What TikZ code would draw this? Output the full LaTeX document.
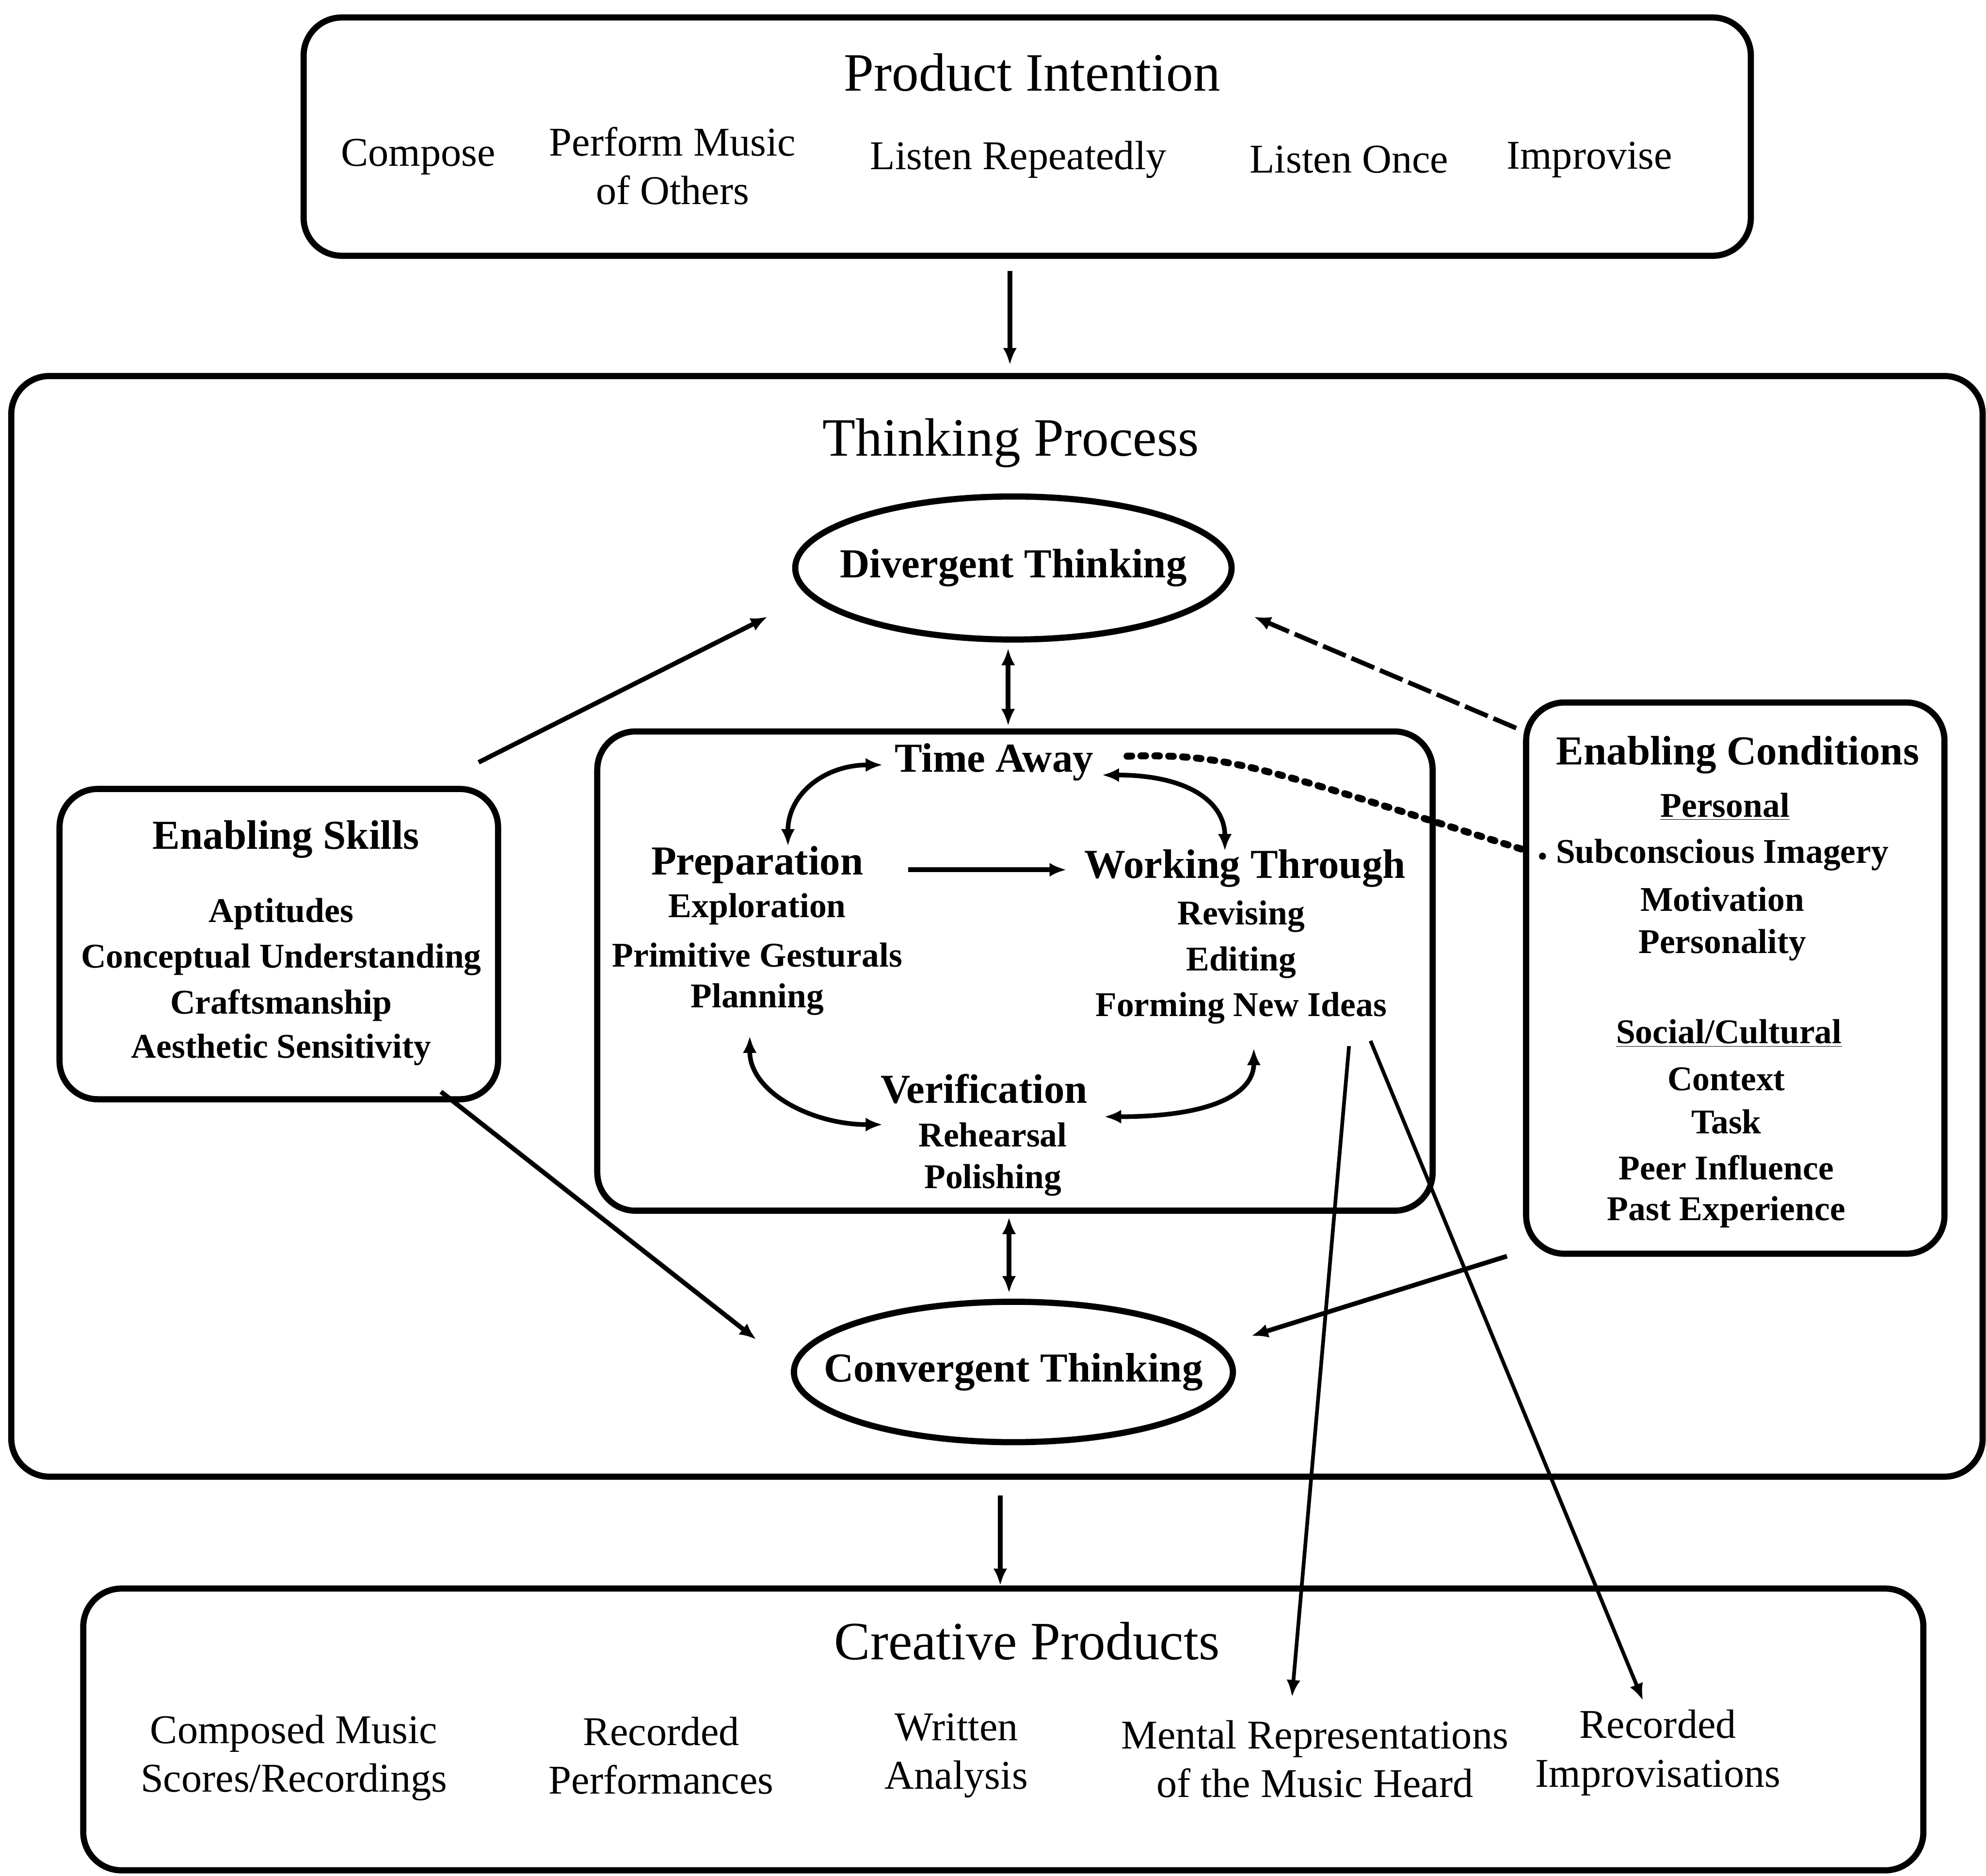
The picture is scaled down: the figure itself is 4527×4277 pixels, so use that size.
\documentclass[tikz,border=0pt]{standalone}
\usepackage{fontspec}
\setmainfont{Liberation Serif}
\usetikzlibrary{arrows.meta,shapes.geometric}
\tikzset{
  frame/.style={draw, line width=4pt, rounded corners=0.87cm, inner sep=0pt},
  oval/.style={draw, ellipse, line width=4pt, inner sep=0pt},
  ttl/.style={font=\fontsize{35}{42}\selectfont},
  item/.style={font=\fontsize{26.5}{31.5}\selectfont, align=center},
  head/.style={font=\bfseries\fontsize{26.7}{31}\selectfont, align=center},
  sub/.style={font=\bfseries\fontsize{22.5}{29.5}\selectfont, align=center},
  tip/.tip={Latex[length=11pt,width=9pt]},
  arr/.style={-tip, line width=3pt},
  darr/.style={tip-tip, line width=3pt},
  thinarr/.style={-tip, line width=2.4pt},
  longdash/.style={-tip, line width=3pt, dash pattern=on 16pt off 4pt},
  dotline/.style={line width=4.5pt, dash pattern=on 3pt off 6pt, line cap=round},
}
\begin{document}
\begin{tikzpicture}[x=0.01cm,y=-0.01cm]
\useasboundingbox (0,0) rectangle (4527,4277);

% boxes
\node[frame, minimum width=32.97cm, minimum height=5.43cm] (pibox) at (2341.5,311.5) {};
\node[frame, minimum width=44.91cm, minimum height=25.08cm] (tpbox) at (2272.5,2112) {};
\node[frame, minimum width=19.03cm, minimum height=10.92cm] (inbox) at (2313.5,2214) {};
\node[frame, minimum width=9.99cm, minimum height=7.07cm] (esbox) at (635.5,2152.5) {};
\node[frame, minimum width=9.53cm, minimum height=12.56cm] (ecbox) at (3955.5,2230) {};
\node[frame, minimum width=41.92cm, minimum height=6.42cm] (cpbox) at (2287,3943) {};

% Product intention
\node[ttl] (pit) at (2353,165) {Product Intention};
\node[item] (pi1) at (953,358) {Compose};
\node[item] (pi2) at (1533,378) {Perform Music\\of Others};
\node[item] (pi3) at (2321,364) {Listen Repeatedly};
\node[item] (pi4) at (3075,364) {Listen Once};
\node[item] (pi5) at (3623,364) {Improvise};

% Thinking process
\node[ttl] (tpt) at (2304,1010) {Thinking Process};
\node[oval, minimum width=9.94cm, minimum height=3.26cm] (div) at (2310,1295) {};
\node[head] (divt) at (div) {Divergent Thinking};
\node[oval, minimum width=10.0cm, minimum height=3.2cm] (conv) at (2310,3128) {};
\node[head] (convt) at (conv) {Convergent Thinking};

\node[head] (ta) at (2266,1738) {Time Away};
\node[head] (prep) at (1726,1972) {Preparation};
\node[sub] (p1) at (1726,2073) {Exploration};
\node[sub] (p2) at (1726,2177) {Primitive Gesturals};
\node[sub] (p3) at (1726,2278) {Planning};
\node[head] (wt) at (2838,1980) {Working Through};
\node[sub] (w1) at (2829,2090) {Revising};
\node[sub] (w2) at (2829,2194) {Editing};
\node[sub] (w3) at (2829,2298) {Forming New Ideas};
\node[head] (ver) at (2243,2483) {Verification};
\node[sub] (v1) at (2263,2587) {Rehearsal};
\node[sub] (v2) at (2263,2691) {Polishing};

\node[head] (est) at (652,1914) {Enabling Skills};
\node[sub] (e1) at (641,2084) {Aptitudes};
\node[sub] (e2) at (641,2188) {Conceptual Understanding};
\node[sub] (e3) at (641,2292) {Craftsmanship};
\node[sub] (e4) at (641,2393) {Aesthetic Sensitivity};

\node[head] (ect) at (3961,1721) {Enabling Conditions};
\node[sub] (c0) at (3932,1839) {\underline{Personal}};
\node[sub] (c1) at (3926,1949) {Subconscious Imagery};
\node[sub] (c2) at (3926,2050) {Motivation};
\node[sub] (c3) at (3926,2154) {Personality};
\node[sub] (c4) at (3941,2356) {\underline{Social/Cultural}};
\node[sub] (c5) at (3935,2460) {Context};
\node[sub] (c6) at (3935,2558) {Task};
\node[sub] (c7) at (3935,2662) {Peer Influence};
\node[sub] (c8) at (3935,2763) {Past Experience};

% Creative products
\node[ttl] (cpt) at (2341,3742) {Creative Products};
\node[item] (cp1) at (670,4008) {Composed Music\\Scores/Recordings};
\node[item] (cp2) at (1507,4003) {Recorded\\Performances};
\node[item] (cp3) at (2180,4003) {Written\\Analysis};
\node[item] (cp4) at (2997,4010) {Mental Representations\\of the Music Heard};
\node[item] (cp5) at (3779,3996) {Recorded\\Improvisations};

% connector end points
\coordinate (a1s) at (2302,618);  \coordinate (a1e) at (2302,832);
\coordinate (a2s) at (2298,1478); \coordinate (a2e) at (2298,1655);
\coordinate (a3s) at (2300,2775); \coordinate (a3e) at (2300,2948);
\coordinate (a4s) at (2280,3410); \coordinate (a4e) at (2280,3615);
\coordinate (b1s) at (1091,1738); \coordinate (b1e) at (1750,1406);
\coordinate (b2s) at (1005,2489); \coordinate (b2e) at (1724,3054);
\coordinate (b3s) at (3456,1660); \coordinate (b3e) at (2858,1406);
\coordinate (b4s) at (3435,2864); \coordinate (b4e) at (2852,3046);
\coordinate (f1s) at (3075,2385); \coordinate (f1e) at (2945,3869);
\coordinate (f2s) at (3124,2373); \coordinate (f2e) at (3745,3877);
\coordinate (pws) at (2070,1983); \coordinate (pwe) at (2431,1983);
\coordinate (ca1) at (1796,1929); \coordinate (ca2) at (2012,1744);
\coordinate (cb1) at (2512,1767); \coordinate (cb2) at (2792,1940);
\coordinate (cc1) at (1709,2362); \coordinate (cc2) at (2012,2564);
\coordinate (cd1) at (2517,2546); \coordinate (cd2) at (2858,2390);
\coordinate (ds) at (2569,1724);  \coordinate (de) at (3475,1938);
\coordinate (dd) at (3516,1952);

% connectors
\draw[arr] (a1s) -- (a1e);
\draw[darr] (a2s) -- (a2e);
\draw[darr] (a3s) -- (a3e);
\draw[arr] (a4s) -- (a4e);
\draw[arr] (b1s) -- (b1e);
\draw[arr] (b2s) -- (b2e);
\draw[longdash] (b3s) -- (b3e);
\draw[arr] (b4s) -- (b4e);
\draw[thinarr] (f1s) -- (f1e);
\draw[thinarr] (f2s) -- (f2e);
\draw[arr] (pws) -- (pwe);
\draw[darr] (ca1) .. controls (1796,1810) and (1880,1744) .. (ca2);
\draw[darr] (cb1) .. controls (2710,1767) and (2792,1830) .. (cb2);
\draw[darr] (cc1) .. controls (1709,2490) and (1850,2564) .. (cc2);
\draw[darr] (cd1) .. controls (2770,2546) and (2858,2490) .. (cd2);
\draw[dotline] (ds) .. controls (2800,1718) and (2860,1745) .. (de);
\fill (dd) circle (8);
\end{tikzpicture}
\end{document}
